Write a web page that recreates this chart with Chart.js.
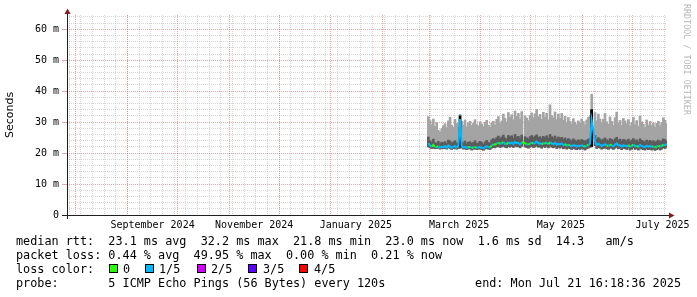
<!DOCTYPE html>
<html><head><meta charset="utf-8">
<script src="https://cdn.jsdelivr.net/npm/chart.js@4.4.1/dist/chart.umd.min.js"></script>
<style>
html,body{margin:0;padding:0;background:#fff;}
#wrap{position:relative;width:697px;height:297px;overflow:hidden;background:#fff;}
canvas{position:absolute;left:0;top:0;}
.t{position:absolute;font-family:"DejaVu Sans Mono",monospace;font-size:11.8px;line-height:14px;white-space:pre;color:#000;}
.box{position:absolute;width:7px;height:7px;border:1px solid #000;}
#wm{position:absolute;left:683px;top:4px;writing-mode:vertical-rl;font-family:"DejaVu Sans Mono",monospace;font-size:8.4px;line-height:8px;color:#b8b8b8;white-space:pre;}
</style></head><body>
<div id="wrap"><canvas id="c" width="697" height="297"></canvas><div id="legend"></div><div id="wm"></div></div>
<script>
// ---------------- data ----------------
const firstDay = '2025-02-28';            // day index 0 of the series
const pingMax = [
 31.8,30.5,29.2,31.0,28.6,29.9,27.4,26.8,27.9,28.8,
 29.5,28.2,30.4,31.6,29.0,28.3,30.9,29.6,28.4,32.5,
 30.2,29.1,30.7,28.5,29.8,30.3,28.9,29.6,30.8,29.2,
 28.7,30.1,29.4,28.6,29.9,30.6,29.0,28.4,29.7,30.3,
 29.1,30.9,31.8,29.6,30.4,32.6,31.2,30.0,33.1,31.5,
 32.4,30.8,33.6,31.9,32.8,31.0,33.4,null,32.0,31.3,
 30.5,32.2,33.0,31.4,32.7,34.1,31.8,32.5,30.9,33.2,
 31.6,32.9,30.7,35.6,32.1,31.4,33.3,30.8,32.6,31.2,
 32.8,30.6,31.9,29.8,31.5,30.2,29.4,31.1,30.0,29.2,
 30.4,29.6,31.0,30.2,29.1,30.7,31.5,32.0,39.0,null,
 33.1,30.4,32.6,31.0,29.6,30.9,32.8,30.1,29.3,31.7,
 30.2,29.0,31.4,33.2,29.8,30.6,28.9,31.2,30.4,29.5,
 30.8,28.7,29.9,31.6,29.2,30.5,28.6,31.9,30.1,29.4,
 28.3,30.7,29.0,30.2,28.9,29.7,28.4,29.6,30.3,28.8,
 29.9,31.4,30.6,29.5];
const pingHigh = [
 25.2,24.0,23.6,24.5,23.4,23.2,23.8,23.0,23.5,23.3,
 23.7,23.1,24.2,23.9,23.3,23.6,24.0,23.2,23.4,23.8,
 23.6,23.3,23.9,23.0,23.5,23.7,23.2,23.4,24.0,23.1,
 23.3,23.8,23.4,22.9,23.6,24.1,23.5,23.2,24.3,24.7,
 24.4,25.0,25.5,24.6,25.2,25.8,24.9,24.5,25.7,25.3,
 25.6,24.8,26.0,25.2,25.4,24.7,25.8,null,25.3,24.9,
 24.6,25.3,25.7,25.0,25.5,25.9,25.1,25.3,24.7,25.4,
 25.0,25.6,24.8,26.0,25.3,24.9,25.5,24.6,25.2,24.8,
 25.1,24.5,24.9,24.2,24.7,24.3,24.0,24.6,24.2,23.9,
 24.3,24.0,24.4,24.1,23.8,24.2,24.5,24.8,34.0,null,
 25.7,24.4,25.0,24.6,24.1,24.5,24.9,24.3,24.0,24.7,
 24.4,24.0,24.6,25.1,24.2,24.5,23.9,24.4,24.3,24.0,
 24.5,23.8,24.2,24.7,24.0,24.3,23.7,24.6,24.1,23.9,
 23.6,24.2,23.8,24.1,23.7,24.0,23.5,23.9,24.2,23.7,
 24.0,24.6,24.3,23.9];
const pingMin = [
 22.0,21.7,21.5,21.6,21.4,21.5,21.6,21.3,21.5,21.4,
 21.6,21.3,21.7,21.5,21.2,21.4,21.6,21.3,21.5,21.6,
 21.7,21.3,21.4,21.1,21.3,21.5,21.0,21.2,21.4,21.1,
 21.2,21.4,21.1,20.9,21.3,21.5,21.3,21.2,21.6,21.8,
 21.7,22.0,22.1,21.8,22.0,22.2,21.9,21.7,22.1,21.9,
 22.2,21.8,22.3,22.0,22.1,21.7,22.2,null,22.0,21.8,
 21.6,21.9,22.2,21.8,22.0,22.3,21.9,22.0,21.6,22.1,
 21.8,22.2,21.7,22.3,21.9,21.7,22.1,21.5,21.8,21.6,
 21.9,21.4,21.7,21.3,21.6,21.4,21.2,21.5,21.3,21.1,
 21.4,21.2,21.5,21.3,21.0,21.4,21.6,21.9,22.0,null,
 22.4,21.5,21.8,21.6,21.3,21.5,21.8,21.4,21.2,21.7,
 21.5,21.2,21.6,21.9,21.4,21.6,21.1,21.5,21.4,21.2,
 21.6,21.0,21.3,21.7,21.2,21.4,21.0,21.6,21.3,21.1,
 21.0,21.4,21.1,21.3,21.0,21.2,20.9,21.1,21.4,21.0,
 21.3,21.7,21.5,21.9];
const medianRtt = [
 23.2,22.4,22.1,22.6,22.0,21.9,22.3,21.8,22.0,21.9,
 22.2,21.8,22.5,22.1,21.7,22.0,22.3,21.9,22.2,31.0,
 22.3,21.8,22.0,21.7,21.9,22.1,21.6,21.8,22.0,21.7,
 21.8,22.0,21.7,21.5,21.9,22.2,22.0,21.8,22.5,22.9,
 22.7,23.1,23.4,22.9,23.2,23.6,23.0,22.8,23.5,23.1,
 23.4,22.9,23.6,23.2,23.3,22.8,23.5,null,23.2,22.9,
 22.7,23.1,23.4,23.0,23.3,23.7,23.1,23.2,22.8,23.3,
 23.0,23.4,22.8,23.6,23.1,22.9,23.3,22.7,23.0,22.8,
 23.1,22.6,22.9,22.4,22.7,22.5,22.2,22.6,22.4,22.1,
 22.4,22.2,22.5,22.3,22.0,22.4,22.6,23.0,30.5,null,
 23.8,22.6,23.0,22.7,22.3,22.6,22.9,22.5,22.2,22.8,
 22.5,22.2,22.7,23.1,22.4,22.6,22.1,22.5,22.4,22.2,
 22.6,22.0,22.3,22.8,22.2,22.4,21.9,22.6,22.3,22.1,
 21.9,22.4,22.1,22.3,22.0,22.2,21.8,22.1,22.4,22.0,
 22.3,22.8,22.5,23.0];
// loss level per day: 0 = no loss, 1 = 1/5, 2 = 2/5 ...
const lossLevel = [
 1,1,0,0,1,0,1,1,1,1, 1,1,1,1,1,1,1,1,1,1, 1,1,1,1,0,1,0,1,0,1,
 1,1,1,1,1,1,1,0,1,0, 0,1,0,1,0,1,1,0,1,1, 1,1,1,1,1,1,1,0,0,1,
 0,1,0,1,1,1,1,1,0,1, 0,1,0,1,1,1,1,1,1,1, 1,1,0,1,0,1,1,1,1,1,
 1,1,1,0,1,0,1,1,1,1, 1,1,1,1,1,1,1,0,1,0, 1,1,1,1,1,1,1,1,1,1,
 0,1,0,1,1,0,1,1,1,1, 1,1,1,1,0,1,0,1,0,1, 0,1,1,1];
// dense smoke core at the two spikes
const spikeDay  = [19, 98];
const spikeLow  = [22.0, 22.2];
const spikeHigh = [32.0, 34.0];

const xTickLabels = ['September 2024','November 2024','January 2025','March 2025','May 2025','July 2025'];
const xTickDates  = ['2024-09-16','2024-11-16','2025-01-16','2025-03-19','2025-05-19','2025-07-19'];
const yMajorTicks = [0,10,20,30,40,50,60];
const yUnit = 'm';
const lossNames = ['0','1/5','2/5','3/5','4/5'];
const legendRtt  = 'median rtt:  23.1 ms avg  32.2 ms max  21.8 ms min  23.0 ms now  1.6 ms sd  14.3   am/s';
const legendLoss = 'packet loss: 0.44 % avg  49.95 % max  0.00 % min  0.21 % now';
const legendProbe = 'probe:       5 ICMP Echo Pings (56 Bytes) every 120s';
const legendEnd = 'end: Mon Jul 21 16:18:36 2025';
const watermark = 'RRDTOOL / TOBI OETIKER';

// ---------------- style / layout ----------------
const lossColors = ['#26ff00','#00b8ff','#d400ff','#5e00ff','#ff0000'];
const DAY = 86400000;
const endTime = Date.UTC(2025,6,21,16,18,36);
const startTime = endTime - 360*DAY;
const day0 = Date.parse(firstDay + 'T12:00:00Z');
const xOf = i => day0 + i*DAY;
const yMax = 64.6;
const minorGrid = 'rgba(150,150,150,0.4)';
const majorGrid = 'rgba(225,90,90,0.55)';

const lightBars = [], darkBars = [], coreBars = [], medPts = [];
pingMax.forEach((v,i)=>{
  if (v!=null && pingMin[i]!=null) lightBars.push({x:xOf(i), y:[pingMin[i], v]});
  if (pingHigh[i]!=null && pingMin[i]!=null) darkBars.push({x:xOf(i), y:[pingMin[i], pingHigh[i]]});
  medPts.push({x:xOf(i), y:medianRtt[i]});
});
spikeDay.forEach((d,k)=>coreBars.push({x:xOf(d), y:[spikeLow[k], spikeHigh[k]]}));

const axesPlugin = {
  id:'rrdAxes',
  afterDraw(chart){
    const {ctx, chartArea:a} = chart;
    ctx.save();
    ctx.strokeStyle = 'rgb(31,31,31)';
    ctx.lineWidth = 1;
    ctx.beginPath();
    ctx.moveTo(a.left-5, a.bottom+0.5); ctx.lineTo(a.right+2, a.bottom+0.5);
    ctx.moveTo(a.left+0.5, a.bottom+4); ctx.lineTo(a.left+0.5, a.top-1);
    ctx.stroke();
    ctx.fillStyle = 'rgb(128,31,31)';
    ctx.beginPath();
    ctx.moveTo(a.right+2, a.bottom-2.5); ctx.lineTo(a.right+7.5, a.bottom+0.5); ctx.lineTo(a.right+2, a.bottom+3.5);
    ctx.closePath(); ctx.fill();
    ctx.beginPath();
    ctx.moveTo(a.left-2.5, a.top-1); ctx.lineTo(a.left+0.5, a.top-6.5); ctx.lineTo(a.left+3.5, a.top-1);
    ctx.closePath(); ctx.fill();
    ctx.restore();
  }
};

Chart.defaults.font.family = '"DejaVu Sans Mono", monospace';
Chart.defaults.color = '#000';

new Chart(document.getElementById('c'), {
  type:'bar',
  data:{datasets:[
    {type:'line', data:medPts, xAxisID:'x', yAxisID:'y', order:0, spanGaps:true, pointRadius:0, borderWidth:2,
     borderColor:lossColors[1],
     segment:{borderColor: c => lossColors[lossLevel[c.p0DataIndex]]}},
    {data:coreBars, xAxisID:'x', yAxisID:'y', order:1, grouped:false, backgroundColor:'#000', barThickness:2},
    {data:darkBars, xAxisID:'x', yAxisID:'y', order:2, grouped:false, backgroundColor:'#5c5c5c', barThickness:2},
    {data:lightBars, xAxisID:'x', yAxisID:'y', order:3, grouped:false, backgroundColor:'#a4a4a4', barThickness:2}
  ]},
  options:{
    responsive:false, animation:false, devicePixelRatio:1,
    layout:{padding:{left:0, top:15, right:30, bottom:0}},
    plugins:{legend:{display:false}, tooltip:{enabled:false}},
    scales:{
      x:{type:'linear', position:'bottom', min:startTime, max:endTime, weight:2, offset:false,
        grid:{offset:false, drawTicks:true, tickLength:3, lineWidth:1,
          color: c => (c.tick && c.tick.major) ? majorGrid : minorGrid},
        border:{display:false, dash:[1,1]},
        ticks:{display:false},
        afterBuildTicks(s){
          const t=[];
          for (let v=Date.UTC(2024,6,28); v<=endTime; v+=7*DAY) t.push({value:v, major:false});
          for (let m=7; m<=18; m++){ const v=Date.UTC(2024,m,1); if(v>startTime && v<endTime) t.push({value:v, major:true}); }
          t.sort((a,b)=>a.value-b.value);
          s.ticks = t;
        },
        afterFit(s){ s.height=0; s.paddingLeft=0; s.paddingRight=0; }
      },
      xl:{type:'linear', position:'bottom', min:startTime, max:endTime, weight:1, offset:false,
        grid:{display:false, drawTicks:false, offset:false}, border:{display:false},
        ticks:{autoSkip:false, maxRotation:0, minRotation:0, padding:4, font:{size:10}, color:'#000',
          callback:(v,i)=>xTickLabels[i]},
        afterBuildTicks(s){ s.ticks = xTickDates.map(d=>({value:Date.parse(d+'T00:00:00Z')})); },
        afterFit(s){ s.height=82; s.paddingLeft=0; s.paddingRight=0; }
      },
      y:{type:'linear', position:'left', min:0, max:yMax, weight:1, offset:false,
        grid:{drawTicks:true, tickLength:5, lineWidth:1,
          color: c => (c.tick && c.tick.value===0) ? 'rgba(0,0,0,0)' : majorGrid},
        border:{display:false, dash:[1,1]},
        title:{display:true, text:'Seconds', font:{family:'"DejaVu Sans", sans-serif', size:11}, color:'#000', padding:{top:4,bottom:0}},
        ticks:{padding:3, font:{size:10}, color:'#000',
          callback:v => v===0 ? '0' : v + ' ' + yUnit},
        afterBuildTicks(s){ s.ticks = yMajorTicks.map(v=>({value:v})); },
        afterFit(s){ s.width=67; }
      },
      ym:{type:'linear', position:'left', min:0, max:yMax, weight:2, offset:false,
        grid:{drawTicks:false, lineWidth:1, color:minorGrid},
        border:{display:false, dash:[1,1]},
        ticks:{display:false},
        afterBuildTicks(s){ const t=[]; for(let v=2; v<yMax; v+=2){ if(v%10!==0) t.push({value:v}); } s.ticks=t; },
        afterFit(s){ s.width=0; }
      }
    }
  },
  plugins:[axesPlugin]
});

// ---------------- legend text ----------------
const lg = document.getElementById('legend');
function addText(txt, left, top, right){
  const d=document.createElement('div'); d.className='t'; d.textContent=txt; d.style.top=top+'px';
  if (right!=null) d.style.right=right+'px'; else d.style.left=left+'px';
  lg.appendChild(d);
}
addText(legendRtt, 16, 234);
addText(legendLoss, 16, 248);
addText('loss color:', 16, 262);
const boxX=[109,145,197,248,299], lblX=[123,159,211,263,314];
lossNames.forEach((n,i)=>{
  const b=document.createElement('div'); b.className='box'; b.style.left=boxX[i]+'px'; b.style.top='264px'; b.style.background=lossColors[i]; lg.appendChild(b);
  addText(n, lblX[i], 262);
});
addText(legendProbe, 16, 276);
addText(legendEnd, null, 276, 16);
document.getElementById('wm').textContent = watermark;
</script>
</body></html>
